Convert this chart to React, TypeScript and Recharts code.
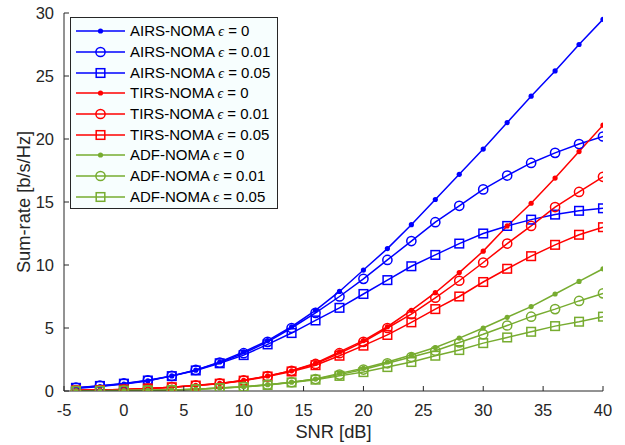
import { CartesianGrid, Legend, Line, LineChart, XAxis, YAxis } from "recharts";

const snr = [-4, -2, 0, 2, 4, 6, 8, 10, 12, 14, 16, 18, 20, 22, 24, 26, 28, 30, 32, 34, 36, 38, 40];

const airs0 = [0.2, 0.35, 0.55, 0.8, 1.2, 1.65, 2.3, 3.1, 4.0, 5.1, 6.4, 7.9, 9.6, 11.3, 13.2, 15.2, 17.2, 19.2, 21.3, 23.4, 25.4, 27.5, 29.5];
const airs01 = [0.26, 0.42, 0.6, 0.85, 1.2, 1.67, 2.25, 3.0, 3.9, 5.0, 6.2, 7.5, 8.9, 10.4, 11.9, 13.4, 14.7, 16.0, 17.1, 18.1, 18.9, 19.6, 20.2];
const airs05 = [0.25, 0.4, 0.58, 0.83, 1.18, 1.63, 2.2, 2.85, 3.7, 4.6, 5.6, 6.6, 7.7, 8.8, 9.9, 10.8, 11.7, 12.5, 13.1, 13.6, 14.0, 14.3, 14.5];
const tirs0 = [0.05, 0.07, 0.12, 0.2, 0.3, 0.45, 0.6, 0.85, 1.2, 1.6, 2.2, 3.1, 4.0, 5.1, 6.4, 7.8, 9.4, 11.1, 13.1, 14.9, 16.9, 19.0, 21.1];
const tirs01 = [0.05, 0.07, 0.12, 0.2, 0.3, 0.44, 0.6, 0.84, 1.18, 1.6, 2.15, 3.0, 3.9, 5.0, 6.1, 7.4, 8.75, 10.2, 11.7, 13.1, 14.6, 15.8, 17.0];
const tirs05 = [0.05, 0.07, 0.12, 0.2, 0.3, 0.43, 0.58, 0.82, 1.15, 1.55, 2.05, 2.8, 3.6, 4.45, 5.45, 6.5, 7.5, 8.65, 9.7, 10.7, 11.6, 12.4, 13.0];
const adf0 = [0.01, 0.02, 0.03, 0.05, 0.08, 0.14, 0.24, 0.34, 0.5, 0.7, 0.95, 1.4, 1.8, 2.3, 2.85, 3.45, 4.2, 5.0, 5.85, 6.7, 7.7, 8.7, 9.7];
const adf01 = [0.01, 0.02, 0.03, 0.05, 0.08, 0.14, 0.24, 0.33, 0.5, 0.7, 0.95, 1.3, 1.7, 2.2, 2.7, 3.2, 3.85, 4.5, 5.2, 5.9, 6.5, 7.15, 7.75];
const adf05 = [0.01, 0.02, 0.03, 0.05, 0.08, 0.14, 0.23, 0.31, 0.48, 0.68, 0.9, 1.2, 1.5, 1.9, 2.3, 2.8, 3.25, 3.8, 4.25, 4.7, 5.15, 5.5, 5.9];

const xTicks = [-5, 0, 5, 10, 15, 20, 25, 30, 35, 40];
const yTicks = [0, 5, 10, 15, 20, 25, 30];

const BLUE = "#0000ff";
const RED = "#ff0000";
const GREEN = "#77ac30";
const AXIS = "#262626";
const FONT = "'Liberation Sans', Arial, Helvetica, sans-serif";
const TICK_FS = 16.5;
const LABEL_FS = 18.3;

type Kind = "dot" | "circle" | "square";

const series: { key: string; name: string; eps: string; color: string; kind: Kind; values: number[] }[] = [
  { key: "airs0", name: "AIRS-NOMA", eps: "0", color: BLUE, kind: "dot", values: airs0 },
  { key: "airs01", name: "AIRS-NOMA", eps: "0.01", color: BLUE, kind: "circle", values: airs01 },
  { key: "airs05", name: "AIRS-NOMA", eps: "0.05", color: BLUE, kind: "square", values: airs05 },
  { key: "tirs0", name: "TIRS-NOMA", eps: "0", color: RED, kind: "dot", values: tirs0 },
  { key: "tirs01", name: "TIRS-NOMA", eps: "0.01", color: RED, kind: "circle", values: tirs01 },
  { key: "tirs05", name: "TIRS-NOMA", eps: "0.05", color: RED, kind: "square", values: tirs05 },
  { key: "adf0", name: "ADF-NOMA", eps: "0", color: GREEN, kind: "dot", values: adf0 },
  { key: "adf01", name: "ADF-NOMA", eps: "0.01", color: GREEN, kind: "circle", values: adf01 },
  { key: "adf05", name: "ADF-NOMA", eps: "0.05", color: GREEN, kind: "square", values: adf05 },
];

const rows = snr.map((x, i) => {
  const r: Record<string, number> = { snr: x };
  series.forEach((s) => (r[s.key] = s.values[i]));
  return r;
});

function Marker({ kind, color, cx, cy }: { kind: Kind; color: string; cx: number; cy: number }) {
  if (kind === "dot") return <circle cx={cx} cy={cy} r={2.6} fill={color} />;
  if (kind === "circle")
    return <circle cx={cx} cy={cy} r={4.6} fill="none" stroke={color} strokeWidth={1.5} />;
  return <rect x={cx - 4.3} y={cy - 4.3} width={8.6} height={8.6} fill="none" stroke={color} strokeWidth={1.5} />;
}

const dotFor = (kind: Kind, color: string) => (p: any) => (
  <g key={`m-${p.index}`}>
    <Marker kind={kind} color={color} cx={p.cx} cy={p.cy} />
  </g>
);

const XTick = ({ x, y, payload }: any) => (
  <text x={x} y={y} dy="0.71em" textAnchor="middle" fill={AXIS} fontSize={TICK_FS} fontFamily={FONT}>
    {payload.value}
  </text>
);

const YTick = ({ x, y, payload }: any) => (
  <text x={x} y={y} dy="0.355em" textAnchor="end" fill={AXIS} fontSize={TICK_FS} fontFamily={FONT}>
    {payload.value}
  </text>
);

const XTitle = ({ viewBox }: any) => (
  <text
    x={viewBox.x + viewBox.width / 2}
    y={viewBox.y + viewBox.height - 7.5}
    textAnchor="middle"
    fill={AXIS}
    fontSize={LABEL_FS}
    fontFamily={FONT}
  >
    SNR [dB]
  </text>
);

const YTitle = ({ viewBox }: any) => {
  const cx = viewBox.x + 30;
  const cy = viewBox.y + viewBox.height / 2;
  return (
    <text
      x={cx}
      y={cy}
      transform={`rotate(-90 ${cx} ${cy})`}
      textAnchor="middle"
      fill={AXIS}
      fontSize={LABEL_FS}
      fontFamily={FONT}
    >
      Sum-rate [b/s/Hz]
    </text>
  );
};

function LegendBox() {
  return (
    <div
      style={{
        width: 206,
        height: 187,
        border: `1px solid ${AXIS}`,
        background: "#f7fefe",
        paddingTop: 3,
        boxSizing: "content-box",
        fontFamily: FONT,
        fontSize: 15,
        color: "#000",
      }}
    >
      {series.map((s) => (
        <div key={s.key} style={{ height: 20.7, display: "flex", alignItems: "center" }}>
          <svg width={59} height={14} style={{ flex: "none" }}>
            <line x1={5} x2={54} y1={7} y2={7} stroke={s.color} strokeWidth={1.5} />
            <Marker kind={s.kind} color={s.color} cx={29.5} cy={7} />
          </svg>
          <span style={{ whiteSpace: "nowrap" }}>
            {s.name}{" "}
            <i style={{ fontFamily: "'Liberation Serif', serif", fontSize: 14 }}>ϵ</i> = {s.eps}
          </span>
        </div>
      ))}
    </div>
  );
}

export default function App() {
  return (
    <div style={{ position: "absolute", left: 0, top: 0, width: 625, height: 445, background: "#fff" }}>
      <LineChart
        width={625}
        height={445}
        data={rows}
        margin={{ top: 13, right: 22, left: 0, bottom: 0 }}
        style={{ fontFamily: FONT }}
      >
        <CartesianGrid horizontal={false} vertical={false} />
        <XAxis
          dataKey="snr"
          type="number"
          domain={[-5, 40]}
          ticks={xTicks}
          allowDataOverflow
          height={54}
          stroke={AXIS}
          tickSize={-5}
          tickMargin={18}
          tick={<XTick />}
          label={<XTitle />}
        />
        <XAxis
          xAxisId="top"
          orientation="top"
          type="number"
          domain={[-5, 40]}
          ticks={xTicks}
          allowDataOverflow
          height={0}
          stroke={AXIS}
          tickSize={-5}
          tickFormatter={() => ""}
        />
        <YAxis
          type="number"
          domain={[0, 30]}
          ticks={yTicks}
          allowDataOverflow
          width={64}
          stroke={AXIS}
          tickSize={-5}
          tickMargin={15}
          tick={<YTick />}
          label={<YTitle />}
        />
        <YAxis
          yAxisId="right"
          orientation="right"
          type="number"
          domain={[0, 30]}
          ticks={yTicks}
          allowDataOverflow
          width={0}
          stroke={AXIS}
          tickSize={-5}
          tickFormatter={() => ""}
        />
        {series.map((s) => (
          <Line
            key={s.key}
            dataKey={s.key}
            type="linear"
            stroke={s.color}
            strokeWidth={1.5}
            dot={dotFor(s.kind, s.color)}
            activeDot={false}
            isAnimationActive={false}
          />
        ))}
        <Legend
          layout="vertical"
          align="center"
          verticalAlign="middle"
          wrapperStyle={{ left: 70, top: 17, width: "auto" }}
          content={() => <LegendBox />}
        />
      </LineChart>
    </div>
  );
}
